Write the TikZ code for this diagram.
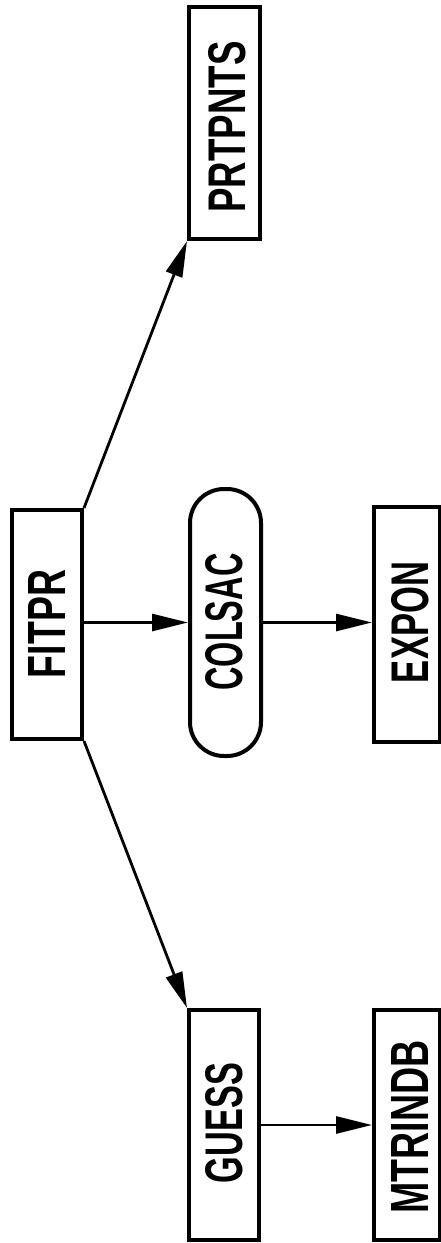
\documentclass[tikz,border=0pt]{standalone}
\usepackage{fontspec}
\setmainfont{Liberation Sans}
\usetikzlibrary{arrows.meta}
\tikzset{
  box/.style={draw, line width=4pt, inner sep=0pt, rectangle},
  pill/.style={draw, line width=4pt, inner sep=0pt, rectangle, rounded corners=34pt},
  lbl/.style={inner sep=0pt, rotate=90},
  conn/.style={line width=2.8pt, -{Triangle[length=36pt,width=17pt]}}
}
\newcommand{\lettering}[2]{\resizebox{#1pt}{37pt}{\bfseries #2}}
\begin{document}
\begin{tikzpicture}[x=1pt,y=-1pt]
\useasboundingbox (0,0) rectangle (441,1243);
% boxes
\node[box, minimum width=70pt, minimum height=229pt] (fitpr) at (47,624.5) {};
\node[pill, minimum width=71pt, minimum height=267pt] (colsac) at (225.5,622.5) {};
\node[box, minimum width=66pt, minimum height=235pt] (expon) at (407,624.5) {};
\node[box, minimum width=71pt, minimum height=232pt] (prtpnts) at (224.5,123) {};
\node[box, minimum width=70pt, minimum height=230pt] (guess) at (224,1125) {};
\node[box, minimum width=66pt, minimum height=230pt] (mtrindb) at (407,1125) {};
% labels
\node[lbl] (fitprT) at (46.5,624) {\lettering{108}{FITPR}};
\node[lbl] (colsacT) at (224,622) {\lettering{137}{COLSAC}};
\node[lbl] (exponT) at (410,622.5) {\lettering{121}{EXPON}};
\node[lbl] (prtpntsT) at (227,127) {\lettering{171}{PRTPNTS}};
\node[lbl] (guessT) at (224,1123) {\lettering{120}{GUESS}};
\node[lbl] (mtrindbT) at (410,1127) {\lettering{173}{MTRINDB}};
% connectors
\draw[conn] (fitpr.north east) -- (prtpnts.south west);
\draw[conn] (fitpr.south east) -- (guess.north west);
\draw[conn] (fitpr.east |- colsac.west) -- (colsac.west);
\draw[conn] (colsac.east) -- (expon.west |- colsac.east);
\draw[conn] (guess.east) -- (mtrindb.west);
\end{tikzpicture}
\end{document}
